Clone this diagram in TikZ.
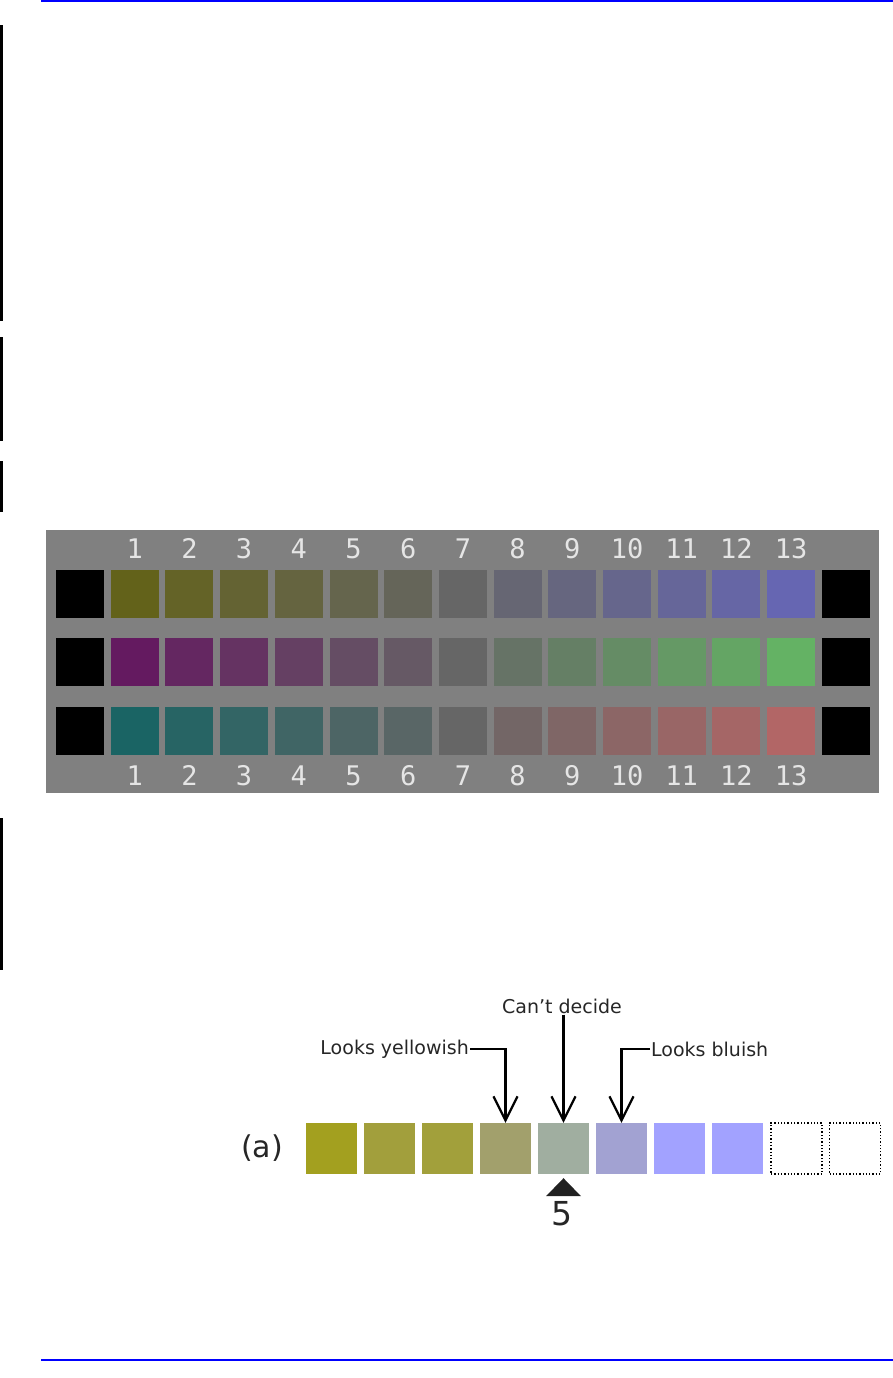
\documentclass[tikz,border=0pt]{standalone}
\usepackage{fontspec}
\setmainfont{DejaVu Sans}
\newfontfamily\monodigits{DejaVu Sans Mono}
\usepackage{xcolor}
\usetikzlibrary{arrows.meta}
\definecolor{panelgrey}{RGB}{128,128,128}
\definecolor{midgrey}{RGB}{102,102,102}
\definecolor{rowolive}{RGB}{99,98,26}
\definecolor{rowblue}{RGB}{102,102,178}
\definecolor{rowpurple}{RGB}{100,26,96}
\definecolor{rowgreen}{RGB}{100,178,100}
\definecolor{rowteal}{RGB}{26,100,100}
\definecolor{rowred}{RGB}{178,102,102}
\definecolor{swA}{RGB}{163,160,31}
\definecolor{swB}{RGB}{162,159,60}
\definecolor{swC}{RGB}{162,160,59}
\definecolor{swD}{RGB}{162,160,108}
\definecolor{swE}{RGB}{160,174,160}
\definecolor{swF}{RGB}{162,162,210}
\definecolor{swG}{RGB}{162,162,255}
\definecolor{swH}{RGB}{162,162,255}

\begin{document}
\begin{tikzpicture}[x=1pt, y=-1pt,
  chip/.style={minimum size=48pt, inner sep=0pt},
  blackbox/.style={chip, fill=black},
  num/.style={text=white!90!black, font=\monodigits\fontsize{27}{27}\selectfont, inner sep=0pt, anchor=base},
  tile/.style={minimum size=51pt, inner sep=0pt},
  emptytile/.style={tile, draw=black, dotted, line width=1.3pt},
  lbl/.style={font=\fontsize{19}{19}\selectfont, text=black!85, inner sep=1pt},
  pointer/.style={line width=2.2pt, -{Straight Barb[length=24pt, width=24pt]}}]
  \useasboundingbox (0,0) rectangle (893,1378);
  \coordinate (topL) at (41,1);
  \coordinate (topR) at (893,1);
  \coordinate (botL) at (41,1360);
  \coordinate (botR) at (893,1360);
  \draw[blue, line width=1.5pt] (topL) -- (topR);
  \draw[blue, line width=1.5pt] (botL) -- (botR);
  \foreach \a/\b in {25/321, 337/441, 461/512, 818/970} {
    \fill[black] (0,\a) rectangle (3,\b);
  }
  \fill[panelgrey] (46,530) rectangle (879,793);
  \foreach \lo/\hi [count=\k from 0] in {rowolive/rowblue, rowpurple/rowgreen, rowteal/rowred} {
    \pgfmathsetmacro{\y}{593.5+68.8*\k}
    \node[blackbox] (bl\k) at (80,\y) {};
    \node[blackbox] (br\k) at ({80+54.7*14},\y) {};
    \foreach \i in {1,...,13} {
      \pgfmathtruncatemacro{\p}{round(100*abs(\i-7)/6)}
      \ifnum\i<7 \colorlet{cell}{\lo!\p!midgrey}\else\colorlet{cell}{\hi!\p!midgrey}\fi
      \node[chip, fill=cell] (c\k-\i) at ({80+54.7*\i},\y) {};
    }
  }
  \foreach \i in {1,...,13} {
    \node[num] (nt\i) at ({80+54.7*\i},558) {\i};
    \node[num] (nb\i) at ({80+54.7*\i},785) {\i};
  }
  \node[font=\fontsize{30}{30}\selectfont, text=black!85] (tag) at (262,1148) {(a)};
  \foreach \c [count=\i] in {swA, swB, swC, swD, swE, swF, swG, swH} {
    \node[tile, fill=\c] (q\i) at ({331.5+58*(\i-1)},1148.5) {};
  }
  \node[emptytile] (q9) at (796.5,1148.5) {};
  \node[emptytile] (q10) at (855,1148.5) {};
  \node[lbl, anchor=east] (yel) at (470,1049) {Looks yellowish};
  \node[lbl, anchor=west] (blu) at (650,1049) {Looks bluish};
  \node[lbl] (cant) at (562,1006) {Can’t decide};
  \draw[pointer] (yel.east) -| (q4.north);
  \draw[pointer] (blu.west) -| (q6.north);
  \draw[pointer] (cant.south -| q5.north) -- (q5.north);
  \fill[black!87] ([yshift=-4pt]q5.south) -- ++(17.5,18) -- ++(-35,0) -- cycle;
  \node[font=\fontsize{33}{33}\selectfont, text=black!85] (five) at (562,1214) {5};
\end{tikzpicture}
\end{document}
